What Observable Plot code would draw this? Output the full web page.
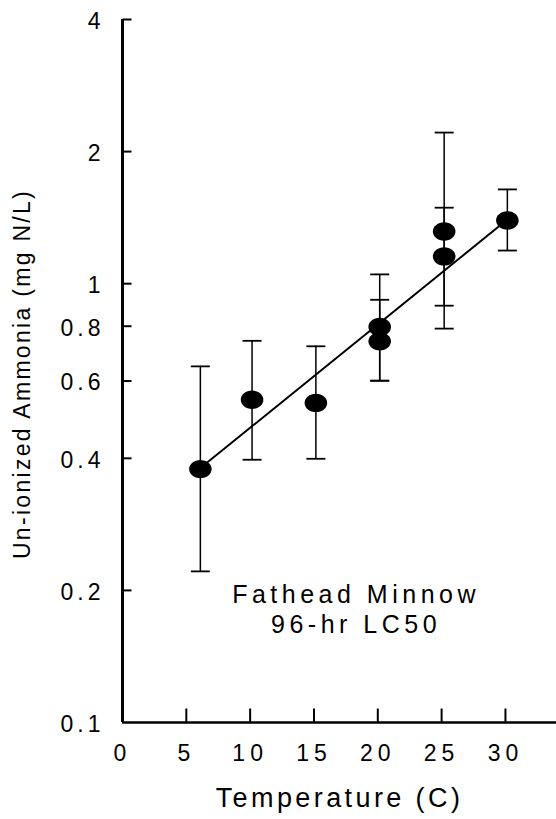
<!DOCTYPE html>
<html>
<head>
<meta charset="utf-8">
<script src="https://cdn.jsdelivr.net/npm/d3@7"></script>
<script src="https://cdn.jsdelivr.net/npm/@observablehq/plot@0.6"></script>
<style>
  html, body { margin: 0; padding: 0; background: #fff; }
  #chart svg { display: block; }
</style>
</head>
<body>
<div id="chart"></div>
<script>
// ---- data ----
const temps  = [6.1, 10.15, 15.15, 20.15, 20.15, 25.2, 25.2, 30.15];
const lc50   = [0.378, 0.544, 0.535, 0.797, 0.739, 1.315, 1.154, 1.394];

const barTemps = [6.1, 10.15, 15.15, 20.15, 20.15, 25.2, 25.2, 30.15];
const barLow   = [0.221, 0.397, 0.399, 0.601, 0.601, 0.790, 0.891, 1.19];
const barHigh  = [0.648, 0.741, 0.720, 1.05, 0.919, 2.21, 1.49, 1.64];

const fitTemps  = [6.1, 30.15];
const fitValues = [0.38, 1.40];

const yTickValues = [0.2, 0.4, 0.6, 0.8, 1, 2, 4];
const yLabelValues = [0.1, 0.2, 0.4, 0.6, 0.8, 1, 2, 4];
const xTickValues = [5, 10, 15, 20, 25, 30];
const xLabelValues = [0, 5, 10, 15, 20, 25, 30];

const yTitle = "Un-ionized Ammonia (mg N/L)";
const xTitle = "Temperature (C)";
const noteLines = ["Fathead Minnow", "96-hr LC50"];
const notePos = [{x: 18.3, y: 0.182}];

// ---- build tables ----
const points = temps.map((t, i) => ({t, v: lc50[i]}));
const bars = barTemps.map((t, i) => ({t, lo: barLow[i], hi: barHigh[i]}));
const fit = fitTemps.map((t, i) => ({t, v: fitValues[i]}));

// ---- custom symbols ----
const ellipse = {
  draw(ctx) {
    const rx = 11.3, ry = 9.2, k = 0.5523;
    ctx.moveTo(rx, 0);
    ctx.bezierCurveTo(rx, ry * k, rx * k, ry, 0, ry);
    ctx.bezierCurveTo(-rx * k, ry, -rx, ry * k, -rx, 0);
    ctx.bezierCurveTo(-rx, -ry * k, -rx * k, -ry, 0, -ry);
    ctx.bezierCurveTo(rx * k, -ry, rx, -ry * k, rx, 0);
    ctx.closePath();
  }
};
const cap = { draw(ctx) { ctx.moveTo(-9.5, 0); ctx.lineTo(9.5, 0); } };
const yTickSym = { draw(ctx) { ctx.moveTo(0, 0); ctx.lineTo(9, 0); } };
const xTickSym = { draw(ctx) { ctx.moveTo(0, 0); ctx.lineTo(0, -14); } };

const font = "'Liberation Sans', Arial, Helvetica, sans-serif";

const chart = Plot.plot({
  width: 556,
  height: 819,
  marginLeft: 122,
  marginRight: 0,
  marginTop: 19,
  marginBottom: 97,
  style: {fontFamily: font, color: "#000", background: "#fff"},
  x: {domain: [0, 34], axis: null},
  y: {type: "log", domain: [0.1, 4], axis: null},
  marks: [
    // tick labels (drawn through the scales)
    Plot.text(yLabelValues, {y: d => d, frameAnchor: "left", textAnchor: "end", lineAnchor: "middle", dx: -18, dy: 2, text: d => String(d), fontSize: 23, fill: "#000"}),
    Plot.text(xLabelValues, {x: d => d, frameAnchor: "bottom", textAnchor: "middle", lineAnchor: "middle", dx: 0, dy: 31, text: d => String(d), fontSize: 23, fill: "#000"}),
    // ticks inward
    Plot.dot(yTickValues, {y: d => d, frameAnchor: "left", symbol: yTickSym, stroke: "#000", strokeWidth: 2, fill: "none"}),
    Plot.dot(xTickValues, {x: d => d, frameAnchor: "bottom", symbol: xTickSym, stroke: "#000", strokeWidth: 2, fill: "none"}),
    // axis lines
    Plot.ruleX([0], {stroke: "#000", strokeWidth: 3}),
    Plot.ruleY([0.1], {stroke: "#000", strokeWidth: 2.5}),
    // error bars
    Plot.ruleX(bars, {x: "t", y1: "lo", y2: "hi", stroke: "#000", strokeWidth: 1.5}),
    Plot.dot(bars, {x: "t", y: "lo", symbol: cap, stroke: "#000", strokeWidth: 1.8, fill: "none"}),
    Plot.dot(bars, {x: "t", y: "hi", symbol: cap, stroke: "#000", strokeWidth: 1.8, fill: "none"}),
    // regression line
    Plot.line(fit, {x: "t", y: "v", stroke: "#000", strokeWidth: 2}),
    // points
    Plot.dot(points, {x: "t", y: "v", symbol: ellipse, fill: "#000", stroke: "none"}),
    // annotation
    Plot.text(notePos, {x: "x", y: "y", text: () => noteLines.join("\n"), fontSize: 25, lineHeight: 1.2, textAnchor: "middle", fill: "#000"}),
    // titles
    Plot.text([yTitle], {frameAnchor: "left", textAnchor: "middle", lineAnchor: "middle", dx: -100, dy: 3, rotate: -90, fontSize: 23, fill: "#000"}),
    Plot.text([xTitle], {frameAnchor: "bottom", textAnchor: "middle", lineAnchor: "middle", dx: 0, dy: 76, fontSize: 27, fill: "#000"})
  ]
});

document.getElementById("chart").appendChild(chart);

// letter spacing (the scanned original uses wide tracking)
const yLabelSet = new Set(yLabelValues.map(String));
const xLabelSet = new Set(xLabelValues.map(String));
d3.select(chart).selectAll("text").each(function () {
  const t = this.textContent;
  const inY = this.parentNode && this.parentNode.getAttribute("text-anchor") === "end";
  let ls = null;
  if (t === yTitle) ls = 2.3;
  else if (t === xTitle) ls = 3.4;
  else if (t.startsWith(noteLines[0])) ls = 4.5;
  else if (inY && yLabelSet.has(t)) ls = 4;
  else if (xLabelSet.has(t)) ls = 5;
  if (ls != null) {
    d3.select(this).attr("letter-spacing", ls).style("letter-spacing", ls + "px");
    d3.select(this).selectAll("tspan").attr("letter-spacing", ls).style("letter-spacing", ls + "px");
  }
});
</script>
</body>
</html>
